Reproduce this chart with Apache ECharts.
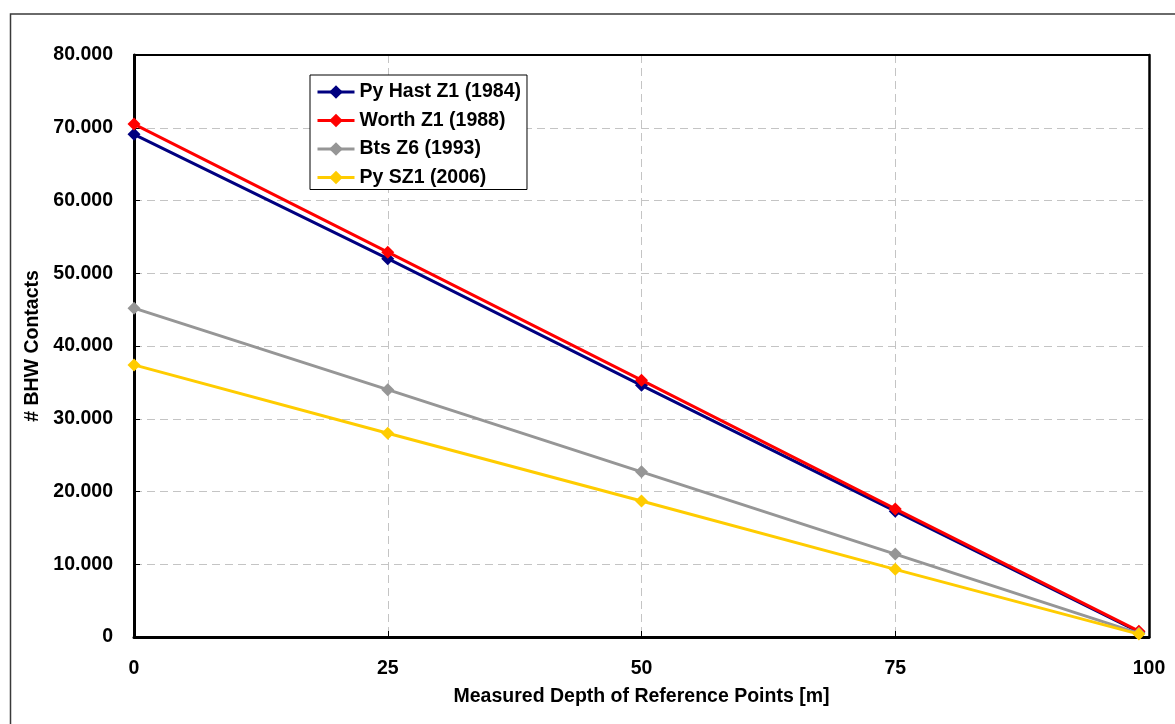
<!DOCTYPE html>
<html>
<head>
<meta charset="utf-8">
<script src="https://cdn.jsdelivr.net/npm/echarts@6/dist/echarts.min.js"></script>
<style>
  html, body { margin: 0; padding: 0; background: #fff; }
  #chart { width: 1175px; height: 724px; }
</style>
</head>
<body>
<div id="chart"></div>
<script>
// Measured depth of the reference points [m]
const depths = [0, 25, 50, 75, 99];

// Contact counts per survey
const pyHastZ1 = [69100, 52000, 34600, 17300, 700];
const worthZ1  = [70500, 52900, 35300, 17600, 800];
const btsZ6    = [45200, 34000, 22700, 11400, 500];
const pySZ1    = [37400, 28000, 18700, 9300, 400];

const seriesNames = ['Py Hast Z1 (1984)', 'Worth Z1 (1988)', 'Bts Z6 (1993)', 'Py SZ1 (2006)'];
const seriesColors = ['#000080', '#ff0000', '#969696', '#ffcc00'];
const seriesValues = [pyHastZ1, worthZ1, btsZ6, pySZ1];

// German-style thousands separator: 10000 -> "10.000"
function fmtThousands(v) {
  if (v === 0) return '0';
  return String(Math.round(v)).replace(/\B(?=(\d{3})+(?!\d))/g, '.');
}

const font = 'Liberation Sans, Arial, sans-serif';
const fs = 19.5;
const textBold = { fontFamily: font, fontWeight: 'bold', fontSize: fs, color: '#000' };
const gridDash = { show: true, lineStyle: { color: '#c4c4c4', type: [8, 5], width: 1 } };

const chart = echarts.init(document.getElementById('chart'));

chart.setOption({
  animation: false,
  backgroundColor: '#fff',
  graphic: [{
    type: 'rect',
    shape: { x: 10.5, y: 14, width: 1180, height: 730 },
    style: { fill: 'none', stroke: '#3a3a3a', lineWidth: 1.5 },
    silent: true
  }],
  grid: { left: 134, right: 26, top: 55, bottom: 87 },
  legend: {
    orient: 'vertical',
    left: 310, top: 75,
    backgroundColor: '#fff',
    borderColor: '#000', borderWidth: 1,
    padding: [7, 6, 2, 6],
    itemGap: 8.5,
    itemWidth: 37, itemHeight: 17,
    lineStyle: { width: 3 },
    textStyle: textBold,
    data: seriesNames
  },
  xAxis: [{
    type: 'value',
    min: 0, max: 100, interval: 25,
    name: 'Measured Depth of Reference Points [m]',
    nameLocation: 'middle', nameGap: 50,
    nameTextStyle: textBold,
    axisLine: { show: true, lineStyle: { color: '#000', width: 3 } },
    axisTick: { show: true, inside: true, length: 6, lineStyle: { color: '#000', width: 1 } },
    axisLabel: Object.assign({ margin: 22 }, textBold),
    splitLine: gridDash
  }, {
    // top frame of the plot area
    type: 'value', position: 'top',
    min: 0, max: 100,
    axisLine: { show: true, onZero: false, lineStyle: { color: '#000', width: 2 } },
    axisTick: { show: false }, axisLabel: { show: false }, splitLine: { show: false }
  }],
  yAxis: [{
    type: 'value',
    min: 0, max: 80000, interval: 10000,
    name: '# BHW Contacts',
    nameLocation: 'middle', nameGap: 88, nameRotate: 90,
    nameTextStyle: textBold,
    axisLine: { show: true, lineStyle: { color: '#000', width: 3 } },
    axisTick: { show: true, inside: true, length: 6, lineStyle: { color: '#000', width: 1 } },
    axisLabel: Object.assign({ margin: 21, formatter: fmtThousands }, textBold),
    splitLine: gridDash
  }, {
    // right frame of the plot area
    type: 'value', position: 'right',
    min: 0, max: 80000,
    axisLine: { show: true, onZero: false, lineStyle: { color: '#000', width: 2.5 } },
    axisTick: { show: false }, axisLabel: { show: false }, splitLine: { show: false }
  }],
  series: seriesNames.map((name, i) => ({
    name: name,
    type: 'line',
    xAxisIndex: 0, yAxisIndex: 0,
    data: depths.map((d, j) => [d, seriesValues[i][j]]),
    symbol: 'diamond',
    symbolSize: 13,
    lineStyle: { color: seriesColors[i], width: 3 },
    itemStyle: { color: seriesColors[i] },
    z: 2 + i,
    clip: false
  }))
});
</script>
</body>
</html>
